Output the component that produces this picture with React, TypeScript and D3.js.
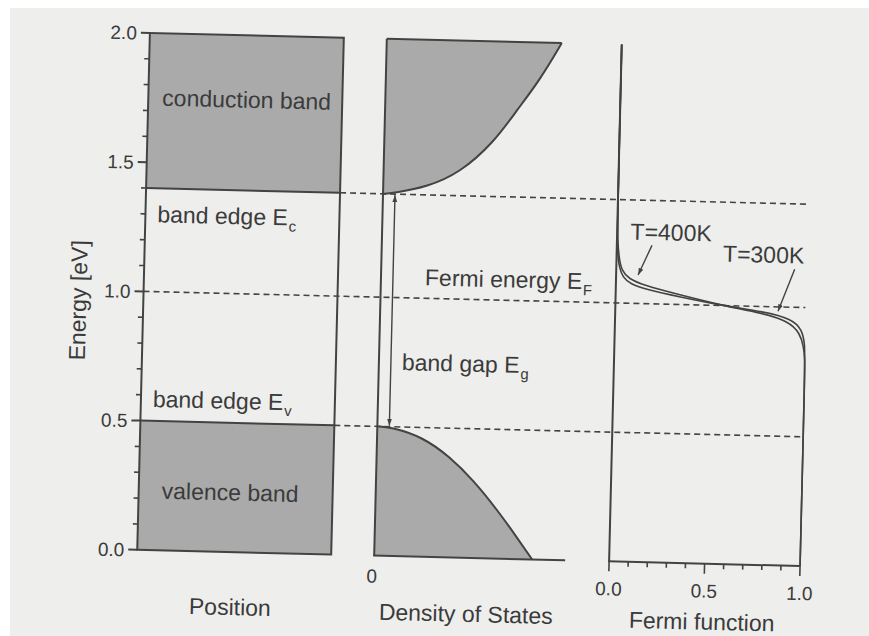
import React from "react";
import * as d3 from "d3";

// Band energies [eV]
const E_CONDUCTION = 1.4;
const E_VALENCE = 0.5;
const E_FERMI = 1.0;

// Energy axis ticks [eV]
const energyMajorTicks = [0, 0.5, 1.0, 1.5, 2.0];
const energyMinorTicks = [0.1, 0.2, 0.3, 0.4, 0.6, 0.7, 0.8, 0.9, 1.1, 1.2, 1.3, 1.4, 1.6, 1.7, 1.8, 1.9];

// Fermi-function axis ticks
const fermiMajorTicks = [0, 0.5, 1.0];
const fermiMinorTicks = [0.1, 0.2, 0.3, 0.4, 0.6, 0.7, 0.8, 0.9];
const fermiTickLabels = ["0.0", "0.5", "1.0"];

// Density of states in the conduction band: [energy eV, DOS a.u.]
const dosConduction: [number, number][] = [
  [1.4, 0.0],
  [1.405, 0.06],
  [1.431, 0.22],
  [1.488, 0.38],
  [1.607, 0.545],
  [1.737, 0.66],
  [1.855, 0.77],
  [2.0, 0.875],
];

// Density of states in the valence band: [energy eV, DOS a.u.]
const dosValence: [number, number][] = [
  [0.5, 0.0],
  [0.499, 0.065],
  [0.463, 0.23],
  [0.388, 0.367],
  [0.302, 0.485],
  [0.188, 0.61],
  [0.085, 0.71],
  [0.0, 0.79],
];

// Fermi function f(E) at T = 400 K: [energy eV, occupation]
const fermi400: [number, number][] = [
  [2.0, 0.0],
  [1.32, 0.0],
  [1.24, 0.004],
  [1.17, 0.014],
  [1.125, 0.03],
  [1.095, 0.065],
  [1.07, 0.15],
  [1.04, 0.32],
  [1.0, 0.56],
  [0.975, 0.77],
  [0.945, 0.91],
  [0.9, 0.97],
  [0.85, 0.99],
  [0.8, 0.999],
  [0.74, 1.0],
  [0.0, 1.0],
];

// Fermi function f(E) at T = 300 K: [energy eV, occupation]
const fermi300: [number, number][] = [
  [2.0, 0.0],
  [1.28, 0.0],
  [1.2, 0.004],
  [1.14, 0.014],
  [1.1, 0.035],
  [1.075, 0.075],
  [1.055, 0.16],
  [1.03, 0.33],
  [1.0, 0.56],
  [0.98, 0.78],
  [0.955, 0.925],
  [0.915, 0.98],
  [0.86, 0.996],
  [0.8, 1.0],
  [0.0, 1.0],
];

const W = 869;
const H = 636;
const FONT = "'Liberation Sans', Arial, Helvetica, sans-serif";
const INK = "#3b3b3b";
const LINE = "#434343";
const BAND_FILL = "#a7a7a7";
const PAPER = "#eeeeec";

// shared energy scale for all three panels
const yE = d3.scaleLinear().domain([0, 2]).range([557, 40]);

// panel x-scales
const xPos = d3.scaleLinear().domain([0, 1]).range([143, 337]);
const xDos = d3.scaleLinear().domain([0, 1]).range([380, 580]);
const xFermi = d3.scaleLinear().domain([0, 1]).range([615, 806]);

const DASH_END = 805;

function Sub({ x, y, main, sub }: { x: number; y: number; main: string; sub: string }) {
  return (
    <text x={x} y={y} fontSize={23} fill={INK} fontFamily={FONT}>
      {main}
      <tspan fontSize={15} dy={6} dx={1}>
        {sub}
      </tspan>
    </text>
  );
}

export default function App() {
  const dosArea = d3
    .area<[number, number]>()
    .y((d) => yE(d[0]))
    .x0(() => xDos(0))
    .x1((d) => xDos(d[1]))
    .curve(d3.curveBasis);
  const dosLine = d3
    .line<[number, number]>()
    .x((d) => xDos(d[1]))
    .y((d) => yE(d[0]))
    .curve(d3.curveBasis);
  const fermiLine = d3
    .line<[number, number]>()
    .x((d) => xFermi(d[1]))
    .y((d) => yE(d[0]))
    .curve(d3.curveBasis);

  const topDos = dosConduction[dosConduction.length - 1][1];
  const arrowX = xDos(0.06);

  const textProps = { fontFamily: FONT, fill: INK };

  return (
    <svg
      width={W}
      height={H}
      viewBox={`0 0 ${W} ${H}`}
      style={{ position: "absolute", left: 0, top: 0, display: "block" }}
    >
      <defs>
        <marker id="head" viewBox="0 0 10 10" refX="10" refY="5" markerWidth="7" markerHeight="7" orient="auto-start-reverse" markerUnits="userSpaceOnUse">
          <path d="M0,1.5 L10,5 L0,8.5 Z" fill={LINE} />
        </marker>
        <filter id="grain" x="0" y="0" width="100%" height="100%">
          <feTurbulence type="fractalNoise" baseFrequency="0.9" numOctaves="2" seed="3" result="n" />
          <feColorMatrix in="n" type="matrix" values="0 0 0 0 0.45  0 0 0 0 0.45  0 0 0 0 0.45  0 0 0 0.5 0" result="g" />
          <feComposite in="g" in2="SourceGraphic" operator="in" result="gc" />
          <feMerge>
            <feMergeNode in="SourceGraphic" />
            <feMergeNode in="gc" />
          </feMerge>
        </filter>
      </defs>

      <rect x={0} y={0} width={W} height={H} fill="#ffffff" />
      <rect x={10} y={8} width={W - 10} height={H - 8} fill={PAPER} />

      <g transform="rotate(1.4 434 318)" strokeLinecap="butt">
        {/* ---------- Position panel ---------- */}
        <rect
          x={xPos(0)}
          y={yE(2)}
          width={xPos(1) - xPos(0)}
          height={yE(E_CONDUCTION) - yE(2)}
          fill={BAND_FILL}
          filter="url(#grain)"
        />
        <rect
          x={xPos(0)}
          y={yE(E_VALENCE)}
          width={xPos(1) - xPos(0)}
          height={yE(0) - yE(E_VALENCE)}
          fill={BAND_FILL}
          filter="url(#grain)"
        />
        <rect
          x={xPos(0)}
          y={yE(2)}
          width={xPos(1) - xPos(0)}
          height={yE(0) - yE(2)}
          fill="none"
          stroke={LINE}
          strokeWidth={2}
        />
        <line x1={xPos(0)} x2={xPos(1)} y1={yE(E_CONDUCTION)} y2={yE(E_CONDUCTION)} stroke={LINE} strokeWidth={2} />
        <line x1={xPos(0)} x2={xPos(1)} y1={yE(E_VALENCE)} y2={yE(E_VALENCE)} stroke={LINE} strokeWidth={2} />

        {/* energy axis ticks */}
        {energyMajorTicks.map((t) => (
          <g key={"M" + t}>
            <line x1={xPos(0) - 9} x2={xPos(0)} y1={yE(t)} y2={yE(t)} stroke={LINE} strokeWidth={2} />
            <text x={xPos(0) - 13} y={yE(t)} dy="0.36em" fontSize={19} textAnchor="end" {...textProps}>
              {t.toFixed(1)}
            </text>
          </g>
        ))}
        {energyMinorTicks.map((t) => (
          <line key={"m" + t} x1={xPos(0) - 5} x2={xPos(0)} y1={yE(t)} y2={yE(t)} stroke={LINE} strokeWidth={1.6} />
        ))}

        <text transform="translate(86, 309) rotate(-90)" fontSize={23} textAnchor="middle" {...textProps}>
          Energy [eV]
        </text>

        <text x={xPos(0) + 14} y={yE(1.72)} fontSize={23} {...textProps}>
          conduction band
        </text>
        <Sub x={xPos(0) + 12} y={yE(E_CONDUCTION) + 34} main="band edge E" sub="c" />
        <Sub x={xPos(0) + 12} y={yE(E_VALENCE) - 14} main="band edge E" sub="v" />
        <text x={xPos(0) + 23} y={yE(0.2)} fontSize={23} {...textProps}>
          valence band
        </text>
        <text x={(xPos(0) + xPos(1)) / 2 - 3} y={620} fontSize={23} textAnchor="middle" {...textProps}>
          Position
        </text>

        {/* ---------- reference energies (dashed) ---------- */}
        <g stroke={LINE} strokeWidth={1.6} strokeDasharray="6,4" fill="none">
          <line x1={xPos(1)} x2={DASH_END} y1={yE(E_CONDUCTION)} y2={yE(E_CONDUCTION)} />
          <line x1={xPos(0)} x2={DASH_END} y1={yE(E_FERMI)} y2={yE(E_FERMI)} />
          <line x1={xPos(1)} x2={DASH_END} y1={yE(E_VALENCE)} y2={yE(E_VALENCE)} />
        </g>

        {/* ---------- Density of states panel ---------- */}
        <path d={dosArea(dosConduction) || ""} fill={BAND_FILL} filter="url(#grain)" />
        <path d={dosArea(dosValence) || ""} fill={BAND_FILL} filter="url(#grain)" />
        <path d={dosLine(dosConduction) || ""} fill="none" stroke={LINE} strokeWidth={2} />
        <path d={dosLine(dosValence) || ""} fill="none" stroke={LINE} strokeWidth={2} />
        <line x1={xDos(0)} x2={xDos(topDos)} y1={yE(2)} y2={yE(2)} stroke={LINE} strokeWidth={2} />
        <line x1={xDos(0)} x2={xDos(0)} y1={yE(2)} y2={yE(0)} stroke={LINE} strokeWidth={2} />
        <line x1={xDos(0) - 1} x2={xDos(0.955)} y1={yE(0)} y2={yE(0)} stroke={LINE} strokeWidth={2} />
        <text x={xDos(0) - 2} y={584} fontSize={19} textAnchor="middle" {...textProps}>
          0
        </text>
        <text x={473} y={621} fontSize={23} textAnchor="middle" {...textProps}>
          Density of States
        </text>

        {/* band gap arrow */}
        <line
          x1={arrowX}
          x2={arrowX}
          y1={yE(E_CONDUCTION) + 1}
          y2={yE(E_VALENCE) - 1}
          stroke={LINE}
          strokeWidth={1.4}
          markerStart="url(#head)"
          markerEnd="url(#head)"
        />
        <Sub x={xDos(0.115)} y={yE(0.72)} main="band gap E" sub="g" />
        <Sub x={xDos(0.22)} y={yE(1.05)} main="Fermi energy E" sub="F" />

        {/* ---------- Fermi function panel ---------- */}
        <line x1={xFermi(0)} x2={xFermi(0)} y1={yE(2)} y2={yE(0)} stroke={LINE} strokeWidth={2} />
        <line x1={xFermi(0) - 1} x2={xFermi(1)} y1={yE(0)} y2={yE(0)} stroke={LINE} strokeWidth={2} />
        {fermiMajorTicks.map((t, i) => (
          <g key={"fM" + t}>
            <line x1={xFermi(t)} x2={xFermi(t)} y1={yE(0)} y2={yE(0) + 10} stroke={LINE} strokeWidth={1.6} />
            <text x={xFermi(t)} y={591} fontSize={19} textAnchor="middle" {...textProps}>
              {fermiTickLabels[i]}
            </text>
          </g>
        ))}
        {fermiMinorTicks.map((t) => (
          <line key={"fm" + t} x1={xFermi(t)} x2={xFermi(t)} y1={yE(0)} y2={yE(0) + 5} stroke={LINE} strokeWidth={1.6} />
        ))}
        <path d={fermiLine(fermi400) || ""} fill="none" stroke={LINE} strokeWidth={1.6} />
        <path d={fermiLine(fermi300) || ""} fill="none" stroke={LINE} strokeWidth={1.6} />

        <text x={xFermi(0.07)} y={yE(1.247)} fontSize={23} {...textProps}>
          T=400K
        </text>
        <line
          x1={xFermi(0.184)}
          y1={yE(1.226)}
          x2={xFermi(0.115)}
          y2={yE(1.11)}
          stroke={LINE}
          strokeWidth={1.4}
          markerEnd="url(#head)"
        />
        <text x={xFermi(0.557)} y={yE(1.17)} fontSize={23} {...textProps}>
          T=300K
        </text>
        <line
          x1={xFermi(0.934)}
          y1={yE(1.147)}
          x2={xFermi(0.852)}
          y2={yE(0.983)}
          stroke={LINE}
          strokeWidth={1.4}
          markerEnd="url(#head)"
        />
        <text x={709} y={623} fontSize={23} textAnchor="middle" {...textProps}>
          Fermi function
        </text>
      </g>
    </svg>
  );
}
